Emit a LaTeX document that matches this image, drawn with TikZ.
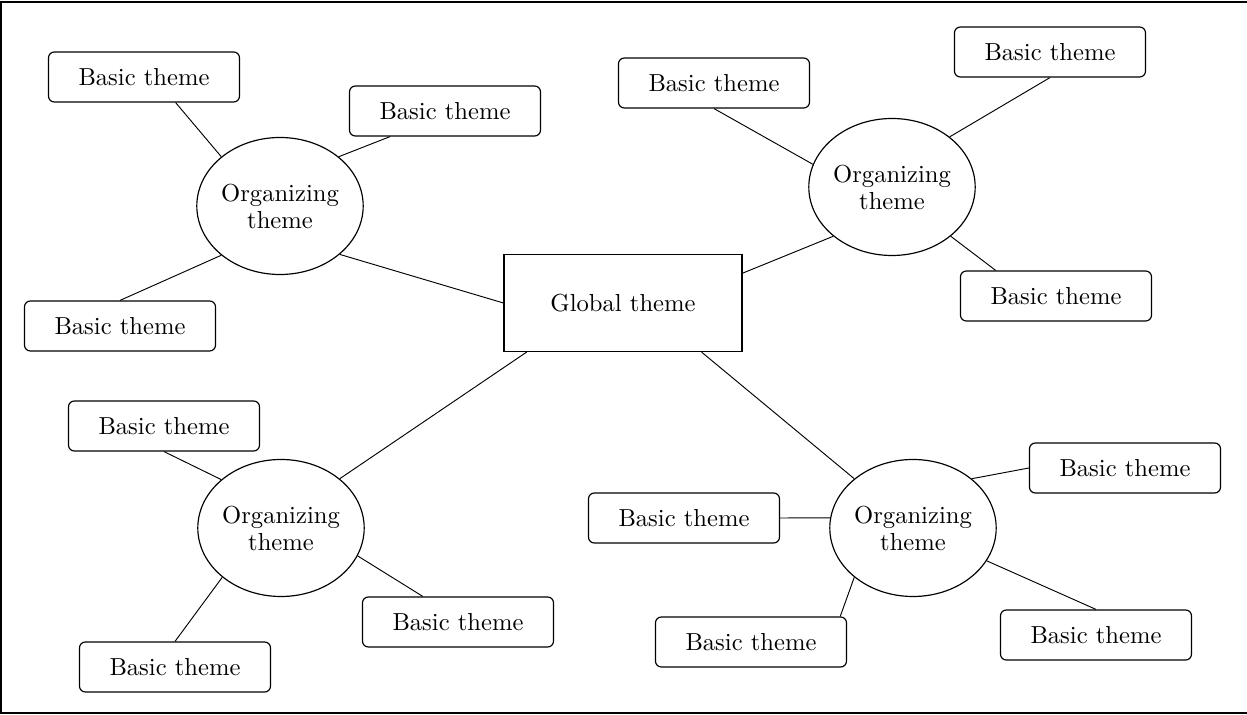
\documentclass[tikz,border=0pt]{standalone}
\usepackage{tikz}
\usetikzlibrary{shapes}
\tikzset{basic/.style    = {draw, rounded corners=2.5pt, line width=0.5pt,
                            minimum width=2.865cm, minimum height=0.75cm, inner sep=0pt},
         organizing/.style = {draw, ellipse, line width=0.5pt, align=center,
                            minimum width=2.49cm, minimum height=2.055cm, inner sep=0pt},
         global/.style   = {draw, rectangle, line width=0.5pt,
                            minimum width=3.57cm, minimum height=1.455cm, inner sep=0pt},
         link/.style     = {line width=0.4pt}}
\newcommand{\basic}[2]{\node[basic] (#1) at #2 {Basic theme};}

\begin{document}
\begin{tikzpicture}[x=0.015cm, y=-0.015cm, font=\fontsize{10.5}{11.5}\selectfont]
  \useasboundingbox (0,0) rectangle (1247,715);
  \draw[line width=0.8pt] (1247,2) -| (1,713) -- (1247,713);
  \node[global] (G) at (623,303) {Global theme};
  \node[organizing] (O1) at (280,206) {Organizing\\theme};
  \node[organizing] (O2) at (892,187) {Organizing\\theme};
  \node[organizing] (O3) at (281,528) {Organizing\\theme};
  \node[organizing] (O4) at (913,528) {Organizing\\theme};
  \basic{B1}{(144,77)}
  \basic{B2}{(445,111)}
  \basic{B3}{(120,326)}
  \basic{B4}{(714,83)}
  \basic{B5}{(1050,52)}
  \basic{B6}{(1056,296)}
  \basic{B7}{(164,426)}
  \basic{B8}{(458,622)}
  \basic{B9}{(175,667)}
  \basic{B10}{(1125,468)}
  \basic{B11}{(684,518)}
  \basic{B12}{(751,642)}
  \basic{B13}{(1096,635)}
  % global theme to organizing themes
  \draw[link] (G.west) -- (O1.-39);
  \draw[link] (G.14) -- (O2.-140);
  \draw[link] (G.-153) -- (O3.40);
  \draw[link] (G.-32) -- (O4.140);
  % organizing themes to basic themes
  \draw[link] (B1.-39) -- (O1.140);
  \draw[link] (B2.-155) -- (O1.40);
  \draw[link] (B3.north) -- (O1.-140);
  \draw[link] (B4.south) -- (O2.164);
  \draw[link] (B5.south) -- (O2.41);
  \draw[link] (B6.157) -- (O2.-40);
  \draw[link] (B7.south) -- (O3.141);
  \draw[link] (B8.144) -- (O3.-20);
  \draw[link] (B9.north) -- (O3.-140);
  \draw[link] (B10.west) -- (O4.40);
  \draw[link] (B11.east) -- (O4.173);
  \draw[link] (B12.16) -- (O4.-140);
  \draw[link] (B13.north) -- (O4.-24);
\end{tikzpicture}
\end{document}
